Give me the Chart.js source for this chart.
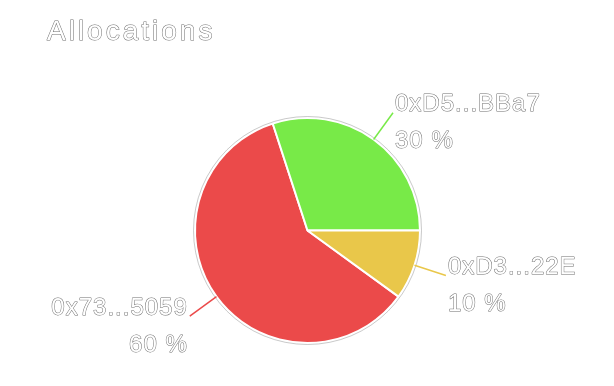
<!DOCTYPE html>
<html>
<head>
<meta charset="utf-8">
<script src="https://cdn.jsdelivr.net/npm/chart.js@4"></script>
<style>
  html, body { margin: 0; padding: 0; background: #fff; }
  #wrap { width: 614px; height: 386px; }
</style>
</head>
<body>
<div id="wrap"><canvas id="allocChart" width="614" height="386"></canvas></div>
<script>
// Chart data
const chartTitle = "Allocations";
const walletLabels = ["0x73...5059", "0xD5...BBa7", "0xD3...22E"];
const walletShares = [60, 30, 10];
const sliceColors = ["#eb4a4a", "#78ea48", "#e9c74a"];

// draws white text with a thin grey outline
function outlinedText(ctx, text, x, y, font, align, spacing) {
  ctx.save();
  ctx.font = font;
  ctx.textAlign = align;
  ctx.textBaseline = "middle";
  ctx.letterSpacing = spacing + "px";
  ctx.lineJoin = "round";
  ctx.lineWidth = 1;
  ctx.strokeStyle = "#707070";
  ctx.strokeText(text, x, y);
  ctx.fillStyle = "#ffffff";
  ctx.fillText(text, x, y);
  ctx.restore();
}

const outsideLabels = {
  id: "outsideLabels",
  afterDatasetsDraw(chart) {
    const ctx = chart.ctx;
    const meta = chart.getDatasetMeta(0);
    const values = chart.data.datasets[0].data;
    const total = values.reduce((a, b) => a + b, 0);

    // thin outline round the pie
    const first = meta.data[0];
    ctx.save();
    ctx.beginPath();
    ctx.arc(first.x, first.y, first.outerRadius + 1.5, 0, Math.PI * 2);
    ctx.strokeStyle = "rgba(100,100,100,0.5)";
    ctx.lineWidth = 0.7;
    ctx.stroke();
    ctx.restore();

    meta.data.forEach((arc, i) => {
      const mid = (arc.startAngle + arc.endAngle) / 2;
      const c = Math.cos(mid), s = Math.sin(mid);
      const r = arc.outerRadius;
      const x1 = arc.x + c * r, y1 = arc.y + s * r;
      const x2 = arc.x + c * (r + 33), y2 = arc.y + s * (r + 33);

      ctx.save();
      ctx.beginPath();
      ctx.moveTo(x1, y1);
      ctx.lineTo(x2, y2);
      ctx.strokeStyle = sliceColors[i];
      ctx.lineWidth = 1.5;
      ctx.stroke();
      ctx.restore();

      const right = c >= 0;
      const tx = right ? x2 + 2 : x2 - 2;
      const align = right ? "left" : "right";
      const pct = Math.round(values[i] / total * 100) + " %";
      outlinedText(ctx, chart.data.labels[i], tx, y2 - 8, "24px 'Liberation Sans', Arial, sans-serif", align, 1);
      outlinedText(ctx, pct, tx, y2 + 29, "24px 'Liberation Sans', Arial, sans-serif", align, 1);
    });

    // title
    outlinedText(ctx, chartTitle, 47, 32, "28px 'Liberation Sans', Arial, sans-serif", "left", 3);
  }
};

const ctx = document.getElementById("allocChart").getContext("2d");
new Chart(ctx, {
  type: "pie",
  data: {
    labels: walletLabels,
    datasets: [
      {
        data: walletShares,
        backgroundColor: sliceColors,
        borderColor: "#ffffff",
        borderWidth: 2,
      },
    ],
  },
  options: {
    responsive: false,
    animation: false,
    rotation: 126,
    layout: {
      padding: { top: 117, bottom: 42, left: 194, right: 193 },
    },
    plugins: {
      legend: { display: false },
      tooltip: { enabled: false },
      title: { display: false },
    },
  },
  plugins: [outsideLabels],
});
</script>
</body>
</html>
